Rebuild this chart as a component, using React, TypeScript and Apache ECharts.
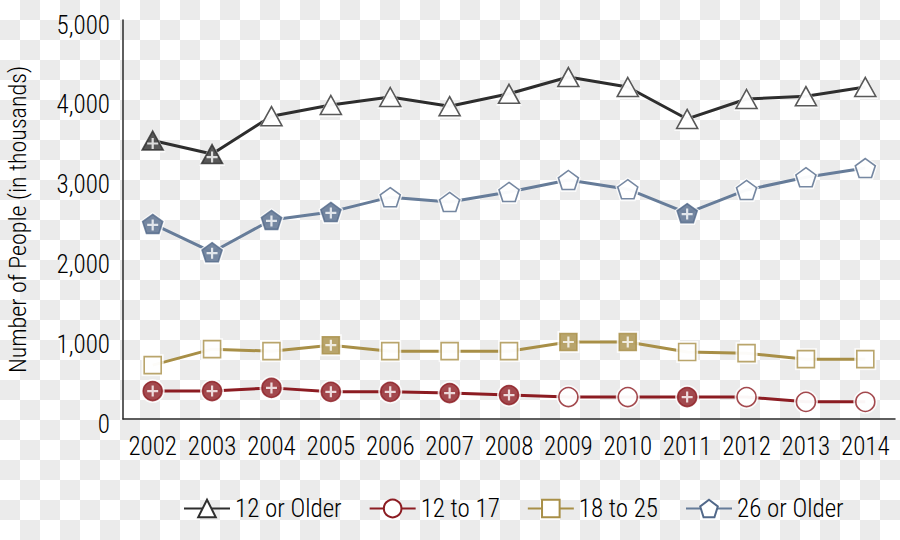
import React, { useEffect, useRef } from "react";
import * as echarts from "echarts";

const years = ["2002", "2003", "2004", "2005", "2006", "2007", "2008", "2009", "2010", "2011", "2012", "2013", "2014"];
const older12 = [3490, 3320, 3795, 3935, 4035, 3920, 4075, 4285, 4160, 3760, 4010, 4045, 4160];
const age12to17 = [350, 350, 390, 340, 340, 325, 300, 275, 275, 275, 275, 215, 215];
const age18to25 = [675, 875, 850, 925, 850, 850, 850, 965, 965, 840, 825, 750, 750];
const older26 = [2445, 2090, 2495, 2595, 2780, 2720, 2845, 2995, 2880, 2580, 2870, 3030, 3145];

// 1 = filled marker with a "+" (significant difference)
const sigOlder12 = [1, 1, 0, 0, 0, 0, 0, 0, 0, 0, 0, 0, 0];
const sig12to17 = [1, 1, 1, 1, 1, 1, 1, 0, 0, 1, 0, 0, 0];
const sig18to25 = [0, 0, 0, 1, 0, 0, 0, 1, 1, 0, 0, 0, 0];
const sigOlder26 = [1, 1, 1, 1, 0, 0, 0, 0, 0, 1, 0, 0, 0];

const seriesNames = ["12 or Older", "12 to 17", "18 to 25", "26 or Older"];
const yTicks = [0, 1000, 2000, 3000, 4000, 5000];

const PENTAGON = "path://M0,-1 L0.951,-0.309 L0.588,0.809 L-0.588,0.809 L-0.951,-0.309 Z";
const PLUS =
  "path://M-1,-0.2 L-0.2,-0.2 L-0.2,-1 L0.2,-1 L0.2,-0.2 L1,-0.2 L1,0.2 L0.2,0.2 L0.2,1 L-0.2,1 L-0.2,0.2 L-1,0.2 Z";

const FONT = "'Liberation Sans Narrow', 'Roboto Condensed', 'DejaVu Sans Condensed', 'Liberation Sans', sans-serif";
const WEIGHT = 300;

export default function App() {
  const ref = useRef<HTMLDivElement>(null);

  useEffect(() => {
    if (!ref.current) return;
    const chart = echarts.init(ref.current, null, { renderer: "svg" });

    const groups = [
      { name: seriesNames[0], data: older12, sig: sigOlder12, line: "#2e2e2e", mark: "#2e2e2e", symbol: "triangle", size: [21, 19], plusOff: [0, 3] },
      { name: seriesNames[1], data: age12to17, sig: sig12to17, line: "#8c1c22", mark: "#8c1c22", symbol: "circle", size: [19, 19], plusOff: [0, 0] },
      { name: seriesNames[2], data: age18to25, sig: sig18to25, line: "#a88f47", mark: "#a88f47", symbol: "rect", size: [17, 17], plusOff: [0, 0] },
      { name: seriesNames[3], data: older26, sig: sigOlder26, line: "#667c99", mark: "#52698a", symbol: PENTAGON, size: [20, 19], plusOff: [0, 1] },
    ];

    const series: any[] = [];
    groups.forEach((g) => {
      series.push({
        type: "line",
        name: g.name,
        data: g.data,
        showSymbol: false,
        symbol: g.symbol,
        symbolSize: g.size,
        lineStyle: { color: g.line, width: 3 },
        itemStyle: { color: "#ffffff", borderColor: g.mark, borderWidth: 1.5 },
        z: 2,
        silent: true,
      });
    });
    groups.forEach((g, gi) => {
      series.push({
        type: "scatter",
        name: "halo" + gi,
        data: g.data,
        symbol: g.symbol,
        symbolSize: [g.size[0] + 5, g.size[1] + 5],
        itemStyle: { color: "#ffffff" },
        z: 3,
        silent: true,
      });
      series.push({
        type: "scatter",
        name: "mark" + gi,
        data: g.data.map((v, i) => ({
          value: v,
          itemStyle: { color: g.sig[i] ? g.mark : "#ffffff", borderColor: g.mark, borderWidth: 1.6 },
        })),
        symbol: g.symbol,
        symbolSize: g.size,
        z: 4,
        silent: true,
      });
      series.push({
        type: "scatter",
        name: "plus" + gi,
        data: g.data.map((v, i) => (g.sig[i] ? v : null)),
        symbol: PLUS,
        symbolSize: 11,
        symbolOffset: g.plusOff,
        itemStyle: { color: "#ffffff" },
        z: 5,
        silent: true,
      });
    });

    chart.setOption({
      animation: false,
      backgroundColor: "transparent",
      textStyle: { fontFamily: FONT, fontWeight: WEIGHT },
      grid: { left: 123, right: 5, top: 20, bottom: 121, containLabel: false, outerBoundsMode: "none" },
      legend: {
        data: seriesNames,
        bottom: 14,
        left: 178,
        itemWidth: 46,
        itemHeight: 22,
        itemGap: 27,
        textStyle: { fontFamily: FONT, fontSize: 25, fontWeight: WEIGHT, color: "#000" },
        selectedMode: false,
      },
      xAxis: {
        type: "category",
        data: years,
        boundaryGap: true,
        axisLine: { lineStyle: { color: "#2a2a2a", width: 1.5 } },
        axisTick: { show: false },
        axisLabel: { color: "#000", fontSize: 25, fontWeight: WEIGHT, fontFamily: FONT, margin: 15, interval: 0, hideOverlap: false },
      },
      yAxis: {
        type: "value",
        min: yTicks[0],
        max: yTicks[yTicks.length - 1],
        interval: 1000,
        name: "Number of People (in thousands)",
        nameLocation: "middle",
        nameGap: 93,
        nameTextStyle: { fontSize: 24, fontWeight: WEIGHT, color: "#000", fontFamily: FONT },
        splitLine: { show: false },
        axisLine: { show: true, lineStyle: { color: "#2a2a2a", width: 1.5 } },
        axisTick: { show: false },
        axisLabel: {
          color: "#000",
          fontSize: 25,
          fontWeight: WEIGHT,
          fontFamily: FONT,
          margin: 13,
          verticalAlign: "top",
          lineHeight: 10,
          formatter: (v: number) => v.toLocaleString("en-US"),
        },
      },
      series,
    });

    return () => chart.dispose();
  }, []);

  return (
    <div
      style={{
        position: "absolute",
        left: 0,
        top: 0,
        width: 900,
        height: 540,
        backgroundColor: "#ffffff",
        backgroundImage: "conic-gradient(#ebebeb 0 25%, #ffffff 0 50%, #ebebeb 0 75%, #ffffff 0)",
        backgroundSize: "40px 40px",
      }}
    >
      <div ref={ref} style={{ width: 900, height: 540 }} />
    </div>
  );
}
